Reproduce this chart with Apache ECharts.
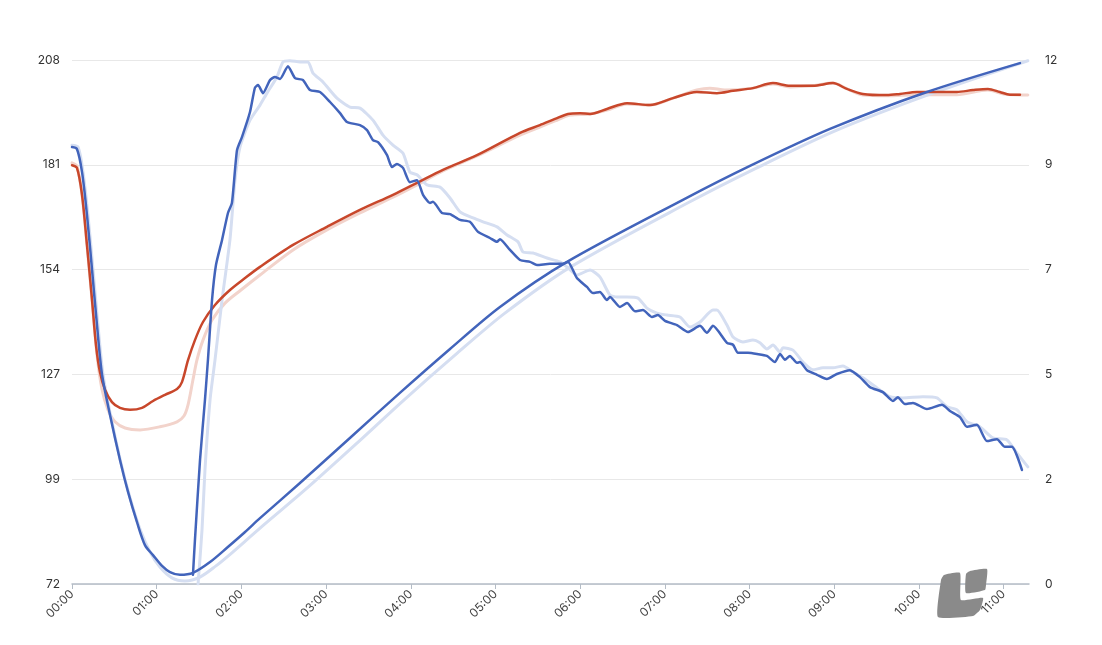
<!DOCTYPE html>
<html>
<head>
<meta charset="utf-8">
<script src="https://cdn.jsdelivr.net/npm/echarts@6/dist/echarts.min.js"></script>
<style>
  html, body { margin: 0; padding: 0; background: #fff; }
  #chart { width: 1102px; height: 645px; }
</style>
</head>
<body>
<div id="chart"></div>
<script>
// time is minutes since 00:00, value on the left scale
const hourTicks = ['00:00','01:00','02:00','03:00','04:00','05:00','06:00','07:00','08:00','09:00','10:00','11:00'];

const blueSmooth = [
  [0,185.6],[3.5,185.1],[7.1,179.1],[10.6,168.0],[14.2,153.7],[17.7,139.4],[21.3,126.5],
  [26.9,116.1],[34.0,104.4],[39.7,96.1],[46.0,88.3],[51.7,82.3],[57.4,79.7],[63.8,76.9],
  [69.4,75.3],[76.5,74.6],[85.7,75.1],[97.8,77.9],[109.8,81.6],[122.6,85.7],[133.2,89.3],
  [161.5,98.4],[196.9,110.1],[232.3,121.8],[267.8,133.2],[303.2,144.1],[350.7,155.8],
  [432.8,171.9],[480.3,180.7],[537.0,190.3],[605.7,199.9],[671.6,207.4]
];
const blueSmoothPrev = [
  [0,186.1],[4.3,185.6],[7.8,179.1],[11.3,168.0],[14.9,153.7],[18.4,139.4],[22.0,126.5],
  [27.6,115.5],[34.7,103.6],[41.1,94.6],[48.2,86.4],[55.3,80.5],[62.3,76.6],[70.8,73.8],
  [80.0,73.0],[90.7,74.0],[102.0,76.9],[113.3,80.3],[126.1,84.4],[136.7,87.8],
  [165.0,96.6],[200.5,108.3],[235.9,120.2],[271.3,131.6],[306.7,142.5],[354.2,154.7],
  [437.8,171.4],[485.2,180.2],[541.9,190.0],[609.9,199.6],[677.2,208.0]
];
const blueNoisy = [
  [85.7,74.6],[87.1,83.6],[90.7,104.4],[94.2,120.0],[96.3,130.3],[99.2,145.9],[102.0,155.0],
  [106.3,161.5],[110.5,168.5],[113.3,171.1],[116.9,184.8],[120.4,188.2],[126.1,194.7],
  [129.6,201.0],[131.8,201.7],[135.3,199.6],[140.3,203.0],[143.8,203.8],[147.4,203.3],
  [153.0,206.6],[158.0,203.5],[163.6,203.0],[168.6,200.4],[175.7,199.9],[182.8,197.3],
  [189.9,194.4],[194.8,192.1],[204.0,191.3],[209.0,190.0],[213.2,187.4],[216.8,186.9],
  [223.2,183.5],[226.7,180.4],[230.2,181.2],[234.5,180.2],[239.4,176.5],[244.4,177.0],
  [248.7,173.2],[253.6,171.1],[255.7,171.4],[262.1,168.5],[267.8,168.2],[274.9,166.7],
  [281.9,166.2],[287.6,163.6],[296.1,162.0],[301.1,161.0],[303.2,161.7],[310.3,158.9],
  [317.4,156.3],[324.5,155.8],[329.4,155.0],[338.6,155.3],[347.8,155.3],[351.4,155.8],
  [357.7,151.6],[364.8,149.3],[369.1,147.7],[374.0,148.0],[379.0,145.9],[381.1,146.7],
  [388.2,144.1],[393.2,145.1],[398.8,143.0],[404.5,143.3],[410.9,141.5],[415.1,142.0],
  [420.1,140.5],[428.6,139.4],[436.4,137.6],[444.9,139.2],[449.8,137.4],[454.1,139.2],
  [464.0,134.8],[468.3,134.3],[471.8,132.2],[478.9,132.2],[485.3,131.9],[492.3,131.4],
  [498.0,129.8],[501.6,131.9],[505.1,130.4],[508.6,131.4],[513.6,129.6],[515.7,129.8],
  [520.7,127.7],[527.8,126.5],[534.8,125.4],[541.9,126.7],[551.1,127.7],[558.2,125.9],
  [565.3,123.3],[574.5,122.0],[581.6,119.7],[585.1,120.7],[590.1,118.9],[595.8,119.2],
  [605.7,117.6],[616.3,118.7],[622.0,117.1],[629.1,115.5],[634.0,113.0],[641.1,113.5],
  [648.2,109.3],[655.3,109.8],[660.9,107.8],[665.9,107.8],[673.0,101.8]
];
const blueNoisyPrev = [
  [89.3,72.2],[92.1,86.2],[94.2,101.8],[97.8,120.0],[101.3,130.3],[106.3,145.9],[111.9,161.5],
  [115.5,177.1],[119.0,185.6],[126.1,192.6],[133.2,196.5],[138.1,199.6],[145.2,203.8],
  [149.5,207.7],[154.4,208.0],[161.5,207.7],[167.2,207.7],[170.7,204.8],[177.8,202.5],
  [187.7,198.3],[196.9,196.0],[204.0,195.7],[213.2,192.6],[220.3,188.7],[227.4,186.1],
  [234.5,184.0],[239.4,179.1],[244.4,178.4],[251.5,175.8],[260.7,175.2],[267.8,172.4],
  [274.9,168.8],[284.1,167.2],[291.2,166.2],[301.1,164.9],[308.2,162.8],[316.0,161.0],
  [319.5,158.4],[326.6,158.1],[336.5,156.8],[345.7,155.8],[350.7,154.5],[357.7,152.4],
  [367.0,153.7],[374.0,151.9],[381.1,147.2],[386.1,146.7],[393.2,146.7],[401.0,146.4],
  [407.3,143.8],[414.4,142.5],[421.5,142.0],[430.7,141.5],[437.8,138.9],[444.9,140.2],
  [454.1,143.3],[456.9,143.3],[464.0,139.4],[468.3,136.3],[475.3,135.0],[482.4,135.5],
  [487.4,134.8],[492.3,133.2],[496.6,134.2],[501.6,132.4],[503.7,133.5],[510.8,132.9],
  [517.8,129.8],[524.9,127.8],[532.0,128.3],[539.1,128.3],[546.2,128.8],[553.3,127.2],
  [560.3,125.7],[570.3,123.1],[579.5,120.8],[588.7,120.5],[602.8,120.8],[612.8,120.5],
  [619.9,118.2],[627.0,117.4],[634.0,114.3],[643.2,113.0],[652.4,110.1],[662.4,109.6],
  [669.4,106.2],[677.2,102.6]
];
const redLine = [
  [0,180.9],[3.5,180.2],[7.1,173.2],[10.6,160.2],[14.2,145.9],[17.0,134.2],[19.8,127.2],
  [23.4,122.6],[28.3,119.4],[34.0,117.9],[41.1,117.4],[49.6,117.9],[57.4,119.7],[65.9,121.3],
  [74.4,122.8],[77.9,124.6],[82.2,130.3],[87.1,135.5],[92.8,140.2],[101.3,144.6],[111.9,148.5],
  [122.6,151.6],[133.2,154.5],[156.6,160.2],[180.6,164.9],[204.0,169.3],[227.4,173.2],
  [244.4,176.3],[262.8,179.7],[286.9,183.5],[317.4,189.3],[331.5,191.3],[342.2,192.9],
  [351.4,194.2],[359.9,194.4],[367.0,194.2],[379.0,195.5],[393.2,197.0],[409.5,196.5],
  [425.8,198.3],[442.7,199.9],[456.9,199.6],[468.3,200.2],[482.4,200.9],[496.6,202.2],
  [508.6,201.5],[524.9,201.5],[539.1,202.2],[549.0,200.7],[560.3,199.4],[577.3,199.1],
  [586.6,199.4],[598.6,199.9],[609.9,199.9],[626.9,199.9],[638.3,200.4],[648.9,200.7],
  [657.4,199.9],[664.5,199.2],[671.6,199.2]
];
const redLinePrev = [
  [0,181.5],[3.5,180.7],[7.1,173.2],[10.6,160.2],[14.2,145.9],[17.7,131.7],[21.3,122.6],
  [25.5,117.4],[30.5,114.3],[37.6,112.7],[48.2,112.2],[62.3,113.0],[74.4,114.3],[79.3,115.8],
  [82.2,118.7],[85.7,125.2],[88.5,130.3],[92.8,135.5],[99.2,140.7],[108.4,145.1],
  [119.7,148.5],[133.2,152.4],[156.6,158.9],[180.6,164.1],[204.0,168.5],[227.4,172.6],
  [244.4,175.8],[262.8,179.4],[286.9,183.3],[317.4,188.7],[331.5,190.8],[342.2,192.4],
  [352.8,193.9],[367.0,194.2],[379.0,195.2],[393.2,196.8],[409.5,196.5],[425.8,198.3],
  [442.7,200.4],[451.9,200.9],[462.6,200.4],[482.4,200.9],[496.6,202.0],[508.6,201.2],
  [524.9,201.5],[539.1,202.2],[549.0,200.7],[560.3,199.1],[577.3,198.9],[598.6,199.2],
  [626.9,199.2],[648.9,200.4],[660.0,199.4],[677.2,199.1]
];

const BLUE = '#4264bb';
const BLUE_PALE = '#d5def1';
const RED = '#c8472b';
const RED_PALE = '#f2d3cb';

const chart = echarts.init(document.getElementById('chart'));

function lineSeries(data, color, width, smooth, z) {
  return {
    type: 'line',
    data: data,
    showSymbol: false,
    smooth: smooth,
    z: z,
    lineStyle: { color: color, width: width, cap: 'round', join: 'round' },
    emphasis: { disabled: true }
  };
}

const option = {
  animation: false,
  grid: { left: 72, right: 73, top: 60, bottom: 61 },
  xAxis: {
    type: 'value',
    min: 0,
    max: 678,
    interval: 60,
    splitLine: { show: false },
    axisLine: { lineStyle: { color: '#b4bcc6', width: 1.5 } },
    axisTick: { show: true, length: 5, lineStyle: { color: '#b4bcc6' } },
    axisLabel: {
      rotate: 45,
      color: '#444',
      fontSize: 12,
      fontFamily: 'Inter',
      margin: 8,
      showMaxLabel: false,
      formatter: function (v) { return v % 60 === 0 ? hourTicks[v / 60] : ''; }
    }
  },
  yAxis: [
    {
      type: 'value',
      min: 72.2,
      max: 208.2,
      interval: 27.2,
      axisLine: { show: false },
      axisTick: { show: false },
      splitLine: { lineStyle: { color: '#e8e8e8', width: 1 } },
      axisLabel: {
        color: '#333', fontSize: 12, fontFamily: 'Inter', margin: 12,
        formatter: function (v) { return Math.round(v); }
      }
    },
    {
      type: 'value',
      min: 0,
      max: 11.8,
      interval: 2.36,
      position: 'right',
      axisLine: { show: false },
      axisTick: { show: false },
      splitLine: { show: false },
      axisLabel: {
        color: '#333', fontSize: 12, fontFamily: 'Inter', margin: 16,
        formatter: function (v) { return Math.round(v); }
      }
    }
  ],
  series: [
    lineSeries(redLinePrev, RED_PALE, 3, 0.3, 1),
    lineSeries(blueSmoothPrev, BLUE_PALE, 3, 0.3, 1),
    lineSeries(blueNoisyPrev, BLUE_PALE, 3, 0.2, 1),
    lineSeries(redLine, RED, 2.5, 0.3, 3),
    lineSeries(blueSmooth, BLUE, 2.5, 0.3, 3),
    lineSeries(blueNoisy, BLUE, 2.5, 0.2, 3)
  ],
  graphic: [
    {
      type: 'polygon', z: 10,
      shape: { points: [[938,617],[941,580],[944,575],[960,573],[961,600],[983,598],[980,610],[973,616]], smooth: 0.15 },
      style: { fill: '#8a8a8a' }
    },
    {
      type: 'polygon', z: 10,
      shape: { points: [[966,593],[966,574],[970,571],[987,569],[986,585],[985,590]], smooth: 0.15 },
      style: { fill: '#8a8a8a' }
    }
  ]
};

chart.setOption(option);
</script>
</body>
</html>
